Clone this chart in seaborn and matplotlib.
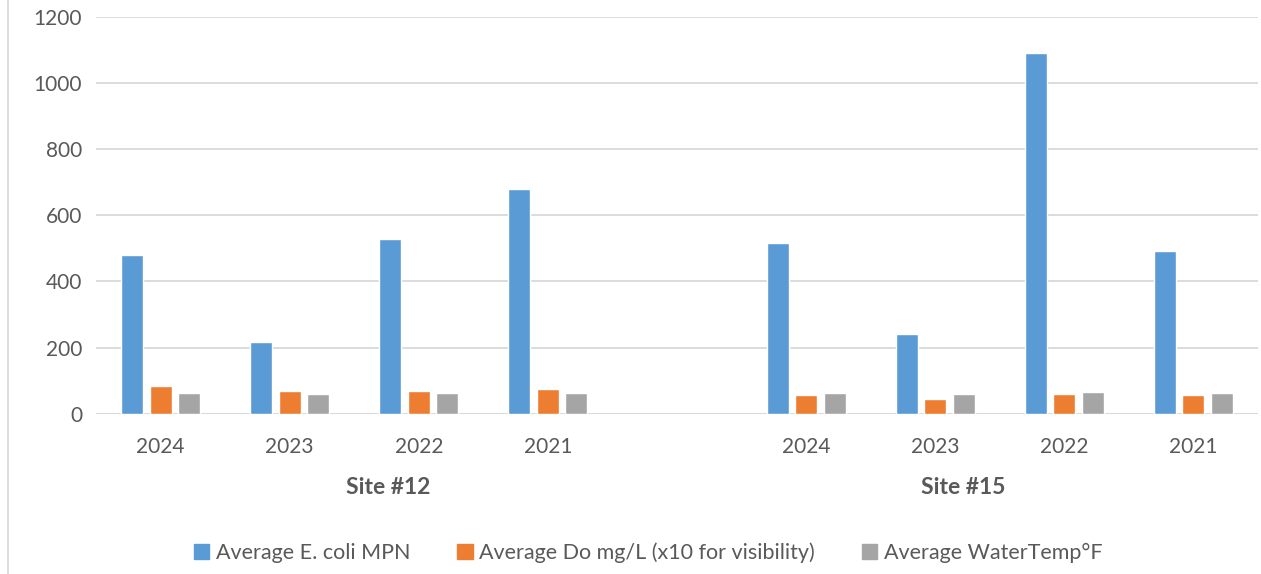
import pandas as pd
import numpy as np
import matplotlib.pyplot as plt
import seaborn as sns
from matplotlib.lines import Line2D

sns.set_theme(style="white")
plt.rcParams["font.family"] = ["Lato", "DejaVu Sans"]

# -------------------------
# data
# -------------------------
years = ["2024", "2023", "2022", "2021"]
sites = ["Site #12", "Site #15"]

ecoli_12 = [480, 217, 527, 681]
do_12 = [85, 68, 69, 75]
temp_12 = [62, 61, 62, 62]

ecoli_15 = [515, 241, 1092, 492]
do_15 = [56, 44, 61, 58]
temp_15 = [62, 60, 66, 63]

series_names = ["Average E. coli MPN", "Average Do mg/L (x10 for visibility)", "Average WaterTemp°F"]
colors = ["#5B9BD5", "#ED7D31", "#A5A5A5"]

# long table; one key per site/year slot
rows = []
for site, vals in [("12", (ecoli_12, do_12, temp_12)), ("15", (ecoli_15, do_15, temp_15))]:
    for i, yr in enumerate(years):
        for name, v in zip(series_names, vals):
            rows.append({"slot": f"{site}-{yr}", "series": name, "value": v[i]})
df = pd.DataFrame(rows)

order = [f"12-{y}" for y in years] + ["gap"] + [f"15-{y}" for y in years]

# -------------------------
# plot
# -------------------------
fig = plt.figure(figsize=(12.61, 5.74), dpi=100)
ax = fig.add_axes([96 / 1261, 1 - 413.7 / 574, (1258 - 96) / 1261, (413.7 - 17) / 574])

sns.barplot(data=df, x="slot", y="value", hue="series", order=order,
            hue_order=series_names, palette=colors, width=0.663, gap=0.23,
            saturation=1, ax=ax, legend=False)

text_col = "#595959"
ax.set_ylim(0, 1200)
ax.set_xlim(-0.5, len(order) - 0.5)
ax.set_yticks(range(0, 1201, 200))
ax.yaxis.grid(True, color="#D9D9D9", linewidth=1.3)
ax.set_axisbelow(True)
for s in ax.spines.values():
    s.set_visible(False)
ax.tick_params(axis="both", length=0, labelsize=15, colors=text_col, pad=10)
ax.set_xticks(range(len(order)))
ax.set_xticklabels(years + [""] + years)
ax.tick_params(axis="x", pad=17)
ax.set_xlabel("")
ax.set_ylabel("")
ax.axhline(0, color="#D9D9D9", linewidth=1.3, zorder=0)

# site labels under the year labels (Excel puts them a bit off-centre)
for pos, site in zip([1.76, 6.22], sites):
    ax.text(pos, -0.185, site, transform=ax.get_xaxis_transform(), ha="center", va="center",
            fontsize=16.5, fontweight="bold", color=text_col)

# legend at bottom
handles = [plt.Rectangle((0, 0), 1, 1, color=c) for c in colors]
fig.legend(handles, series_names, loc="center", bbox_to_anchor=(0.514, 1 - 553 / 574),
           ncol=3, frameon=False, fontsize=15.5, labelcolor=text_col,
           handlelength=0.7, handleheight=0.7, handletextpad=0.3, columnspacing=2.2)

# chart border on the left
fig.add_artist(Line2D([7.5 / 1261, 7.5 / 1261], [0, 1], color="#D9D9D9", linewidth=1.3))

fig.savefig("out.png", dpi=100)
